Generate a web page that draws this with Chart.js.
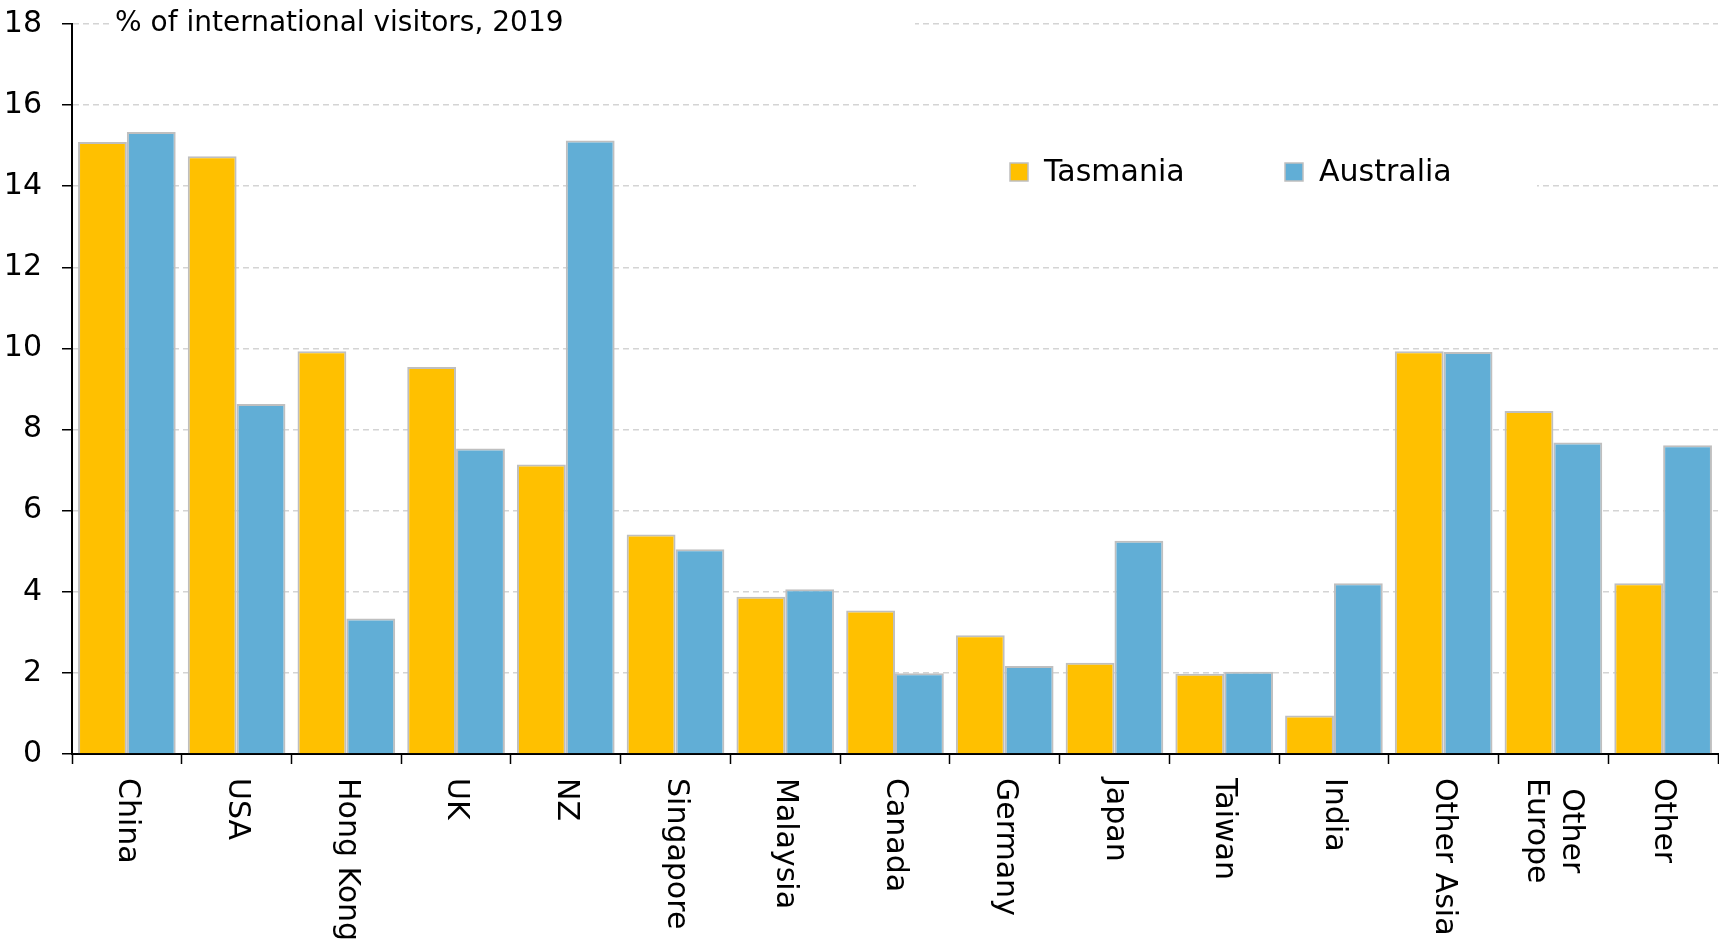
<!DOCTYPE html>
<html>
<head>
<meta charset="utf-8">
<script src="https://cdn.jsdelivr.net/npm/chart.js@4/dist/chart.umd.min.js"></script>
<style>
  body { margin: 0; background: #fff; }
  canvas { display: block; }
</style>
</head>
<body>
<canvas id="visitors_chart" width="1719" height="947"></canvas>
<script>
// data
const categories = [['China'], ['USA'], ['Hong Kong'], ['UK'], ['NZ'], ['Singapore'], ['Malaysia'],
    ['Canada'], ['Germany'], ['Japan'], ['Taiwan'], ['India'], ['Other Asia'], ['Other', 'Europe'], ['Other']];
const tasmania = [15.09, 14.74, 9.93, 9.54, 7.14, 5.41, 3.88, 3.54, 2.93, 2.25, 1.98, 0.95, 9.93, 8.46, 4.21];
const australia = [15.34, 8.63, 3.34, 7.53, 15.13, 5.05, 4.06, 1.99, 2.17, 5.26, 2.03, 4.21, 9.91, 7.68, 7.61];
const seriesNames = ['Tasmania', 'Australia'];
const yTicks = [0, 2, 4, 6, 8, 10, 12, 14, 16, 18];
const titleText = '% of international visitors, 2019';

const FONT = '"DejaVu Sans", sans-serif';
const YELLOW = '#FFC000';
const BLUE = '#61AED6';
const EDGE = '#BFBFBF';

// white boxes behind the title and legend, then the text itself
const annotations = {
    id: 'annotations',
    beforeDatasetsDraw(chart) {
        const ctx = chart.ctx;
        ctx.save();
        ctx.fillStyle = '#fff';
        ctx.fillRect(111, 0, 804, 42);
        ctx.fillRect(916, 120, 621, 110);
        ctx.restore();
    },
    afterDraw(chart) {
        const ctx = chart.ctx;
        const xScale = chart.scales.x;
        ctx.save();
        ctx.fillStyle = '#000';

        // title
        ctx.font = '28px ' + FONT;
        ctx.textAlign = 'left';
        ctx.textBaseline = 'alphabetic';
        ctx.fillText(titleText, 115, 31);

        // legend
        const legendX = [1010, 1285];
        const colours = [YELLOW, BLUE];
        ctx.font = '30px ' + FONT;
        ctx.textBaseline = 'middle';
        for (let i = 0; i < seriesNames.length; i++) {
            ctx.fillStyle = colours[i];
            ctx.fillRect(legendX[i], 163, 18, 18);
            ctx.strokeStyle = EDGE;
            ctx.lineWidth = 1.5;
            ctx.strokeRect(legendX[i], 163, 18, 18);
            ctx.fillStyle = '#000';
            ctx.fillText(seriesNames[i], legendX[i] + 34, 173);
        }

        // category labels, turned to read top to bottom
        ctx.font = '30px ' + FONT;
        ctx.textAlign = 'left';
        ctx.textBaseline = 'middle';
        const lineH = 35;
        categories.forEach(function(lines, i){
            const x = xScale.getPixelForTick(i);
            const widths = lines.map(function(l){ return ctx.measureText(l).width; });
            const maxW = Math.max.apply(null, widths);
            ctx.save();
            ctx.translate(x, xScale.top + 24);
            ctx.rotate(Math.PI / 2);
            lines.forEach(function(line, j){
                const off = (j - (lines.length - 1) / 2) * lineH;
                ctx.fillText(line, (maxW - widths[j]) / 2, off);
            });
            ctx.restore();
        });
        ctx.restore();
    }
};

function noScalePadding(scale){
    scale.paddingTop = 0;
    scale.paddingBottom = 0;
    scale.paddingLeft = 0;
    scale.paddingRight = 0;
}

const ctx = document.getElementById('visitors_chart').getContext('2d');
const chart = new Chart(ctx, {
    type: 'bar',
    data: {
        labels: categories.map(function(c){ return c.join(' '); }),
        datasets: [{
            label: seriesNames[0],
            data: tasmania,
            backgroundColor: YELLOW,
            borderColor: EDGE,
            borderWidth: 2
        }, {
            label: seriesNames[1],
            data: australia,
            backgroundColor: BLUE,
            borderColor: EDGE,
            borderWidth: 2
        }]
    },
    options: {
        responsive: false,
        animation: false,
        devicePixelRatio: 1,
        layout: { padding: { top: 24, right: 1, left: 0, bottom: 0 } },
        datasets: {
            bar: { categoryPercentage: 0.89, barPercentage: 1.0 }
        },
        plugins: {
            legend: { display: false },
            tooltip: { enabled: false }
        },
        scales: {
            x: {
                grid: {
                    offset: true,
                    drawOnChartArea: false,
                    tickLength: 10,
                    tickColor: '#000',
                    tickWidth: 1.5
                },
                border: { color: '#000', width: 2 },
                ticks: { display: false },
                afterFit: function(scale){
                    scale.height = 193;
                    noScalePadding(scale);
                }
            },
            y: {
                min: 0,
                max: 18,
                afterBuildTicks: function(scale){
                    scale.ticks = yTicks.map(function(v){ return { value: v }; });
                },
                grid: {
                    color: '#D4D4D4',
                    lineWidth: 1.5,
                    tickLength: 10,
                    tickColor: '#000',
                    tickWidth: 1.5,
                    tickBorderDash: [0, 0]
                },
                border: { color: '#000', width: 2, dash: [6, 4] },
                ticks: {
                    color: '#000',
                    font: { family: FONT, size: 30 },
                    padding: 20
                },
                afterFit: function(scale){
                    scale.width = 72;
                    noScalePadding(scale);
                }
            }
        }
    },
    plugins: [annotations]
});
</script>
</body>
</html>
